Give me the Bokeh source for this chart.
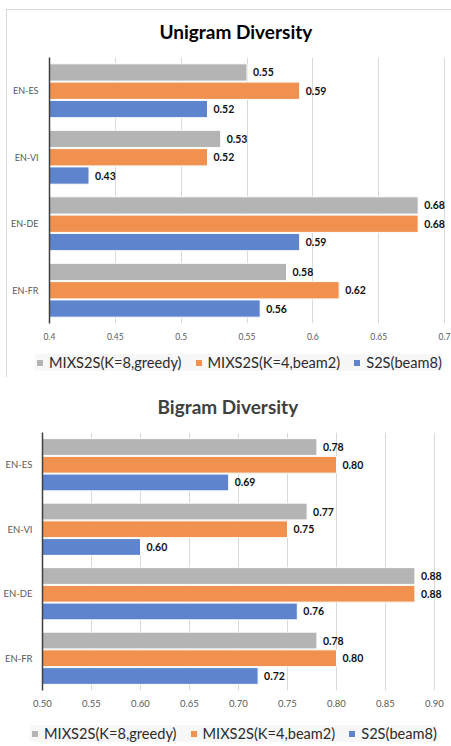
from bokeh.plotting import figure
from bokeh.models import FactorRange, FixedTicker, Legend, LegendItem, ColumnDataSource
from bokeh.transform import dodge
from bokeh.layouts import column, row
from bokeh.core.properties import value
from bokeh.embed import file_html
from bokeh.resources import INLINE

# ---------------- data ----------------
categories = ["EN-ES", "EN-VI", "EN-DE", "EN-FR"]          # top to bottom
series_names = ["MIXS2S(K=8,greedy)", "MIXS2S(K=4,beam2)", "S2S(beam8)"]

uni_mix8 = [0.55, 0.53, 0.68, 0.58]
uni_mix4 = [0.59, 0.52, 0.68, 0.62]
uni_s2s = [0.52, 0.43, 0.59, 0.56]

bi_mix8 = [0.78, 0.77, 0.88, 0.78]
bi_mix4 = [0.80, 0.75, 0.88, 0.80]
bi_s2s = [0.69, 0.60, 0.76, 0.72]

uni_ticks = [0.4, 0.45, 0.5, 0.55, 0.6, 0.65, 0.7]
uni_tick_labels = ["0.4", "0.45", "0.5", "0.55", "0.6", "0.65", "0.7"]
bi_ticks = [0.5, 0.55, 0.6, 0.65, 0.7, 0.75, 0.8, 0.85, 0.9]
bi_tick_labels = ["0.50", "0.55", "0.60", "0.65", "0.70", "0.75", "0.80", "0.85", "0.90"]

# ---------------- style ----------------
COLORS = ["#b4b4b4", "#f0914f", "#5d84cc"]
FONT = "Lato"
W = 451


def build(title_text, title_color, title_offset, vals, ticks, tick_labels, height,
          b_top, b_bottom, b_left, span_px, ylab_standoff, ylab_font, tick_font, styles=None):
    frame_w = W - b_left
    x_end = ticks[0] + frame_w * (ticks[-1] - ticks[0]) / span_px
    kw = {}
    if styles:
        kw["styles"] = styles
    p = figure(width=W, height=height,
               y_range=FactorRange(factors=categories[::-1]),
               x_range=(ticks[0], x_end),
               output_backend="svg", toolbar_location=None,
               min_border_top=b_top, min_border_bottom=b_bottom,
               min_border_left=b_left, min_border_right=0,
               background_fill_color=None, border_fill_color=None, **kw)
    p.outline_line_color = None

    p.title.text = title_text
    p.title.text_font = FONT
    p.title.text_font_style = "bold"
    p.title.text_font_size = "19px"
    p.title.text_color = title_color
    p.title.align = "left"
    p.title.offset = title_offset
    p.title.standoff = 30

    ticker = FixedTicker(ticks=ticks)
    p.xaxis.ticker = ticker
    p.xgrid.ticker = ticker
    p.xaxis.major_label_overrides = dict(zip(ticks, tick_labels))
    p.xaxis.axis_line_color = None
    p.xaxis.major_tick_line_color = None
    p.xaxis.minor_tick_line_color = None
    p.xaxis.major_tick_out = 0
    p.xaxis.major_label_standoff = 9
    p.xaxis.major_label_text_font = FONT
    p.xaxis.major_label_text_font_size = tick_font
    p.xaxis.major_label_text_color = "#595959"

    p.yaxis.axis_line_color = "#404040"
    p.yaxis.axis_line_width = 1.5
    p.yaxis.major_tick_line_color = None
    p.yaxis.minor_tick_line_color = None
    p.yaxis.major_tick_out = 0
    p.yaxis.axis_label_standoff = 0
    p.yaxis.major_label_standoff = ylab_standoff
    p.yaxis.major_label_text_font = FONT
    p.yaxis.major_label_text_font_size = ylab_font
    p.yaxis.major_label_text_color = "#595959"

    p.xgrid.grid_line_color = "#d9d9d9"
    p.xgrid.grid_line_width = 1
    p.ygrid.grid_line_color = None

    data = dict(cat=categories)
    for i, v in enumerate(vals):
        data[f"s{i}"] = v
        data[f"t{i}"] = [f"{x:.2f}" for x in v]
    src = ColumnDataSource(data)

    offsets = [0.275, 0.0, -0.275]
    for i in range(3):
        p.hbar(y=dodge("cat", offsets[i], range=p.y_range), left=ticks[0], right=f"s{i}",
               height=0.26, fill_color=COLORS[i], line_color="white", line_width=1,
               source=src)
        p.text(x=f"s{i}", y=dodge("cat", offsets[i], range=p.y_range), text=f"t{i}",
               x_offset=6, text_baseline="middle", text_align="left",
               text_font=value(FONT), text_font_style="bold", text_font_size="10.5px",
               text_color="#111111", source=src)
    return p


def legend_fig(height, loc, styles=None):
    kw = {}
    if styles:
        kw["styles"] = styles
    lp = figure(width=W, height=height, x_range=(0, 1), y_range=(0, 1),
                x_axis_type=None, y_axis_type=None,
                output_backend="svg", toolbar_location=None,
                min_border_left=0, min_border_right=0, min_border_top=0, min_border_bottom=0,
                background_fill_color=None, border_fill_color=None,
                outline_line_color=None, **kw)
    # legend proxies: one row each, placed outside the visible y range
    rs = [lp.hbar(y=[-1], left=[0], right=[1], height=0.1, fill_color=c,
                  line_color="white", line_width=1) for c in COLORS]
    legend = Legend(items=[LegendItem(label=n, renderers=[r]) for n, r in zip(series_names, rs)],
                    location=loc, orientation="horizontal",
                    glyph_width=9, glyph_height=9, label_standoff=5, spacing=12,
                    padding=5, margin=0, label_height=15,
                    label_text_font=FONT, label_text_font_size="14.6px",
                    label_text_color="#2b2b2b",
                    background_fill_color="#f7f7f7", background_fill_alpha=1,
                    border_line_color=None)
    lp.add_layout(legend)
    return lp


p1 = build("Unigram Diversity", "#000000", 110, [uni_mix8, uni_mix4, uni_s2s],
           uni_ticks, uni_tick_labels, 343, 57, 20, 49, 395, 11, "9px", "8.5px",
           styles={"box-shadow": "inset 6px 9px 0 0 #ffffff, inset 7px 10px 0 0 #d9d9d9"})
l1 = legend_fig(34, (35, 6),
                styles={"box-shadow": "inset 6px 0 0 0 #ffffff, inset 7px 0 0 0 #d9d9d9"})
p2 = build("Bigram Diversity", "#404040", 115, [bi_mix8, bi_mix4, bi_s2s],
           bi_ticks, bi_tick_labels, 332, 50, 18, 42, 392, 10, "9.5px", "9.5px")
l2 = legend_fig(33, (30, 0))

layout = column(row(p1), row(l1), row(p2), row(l2), spacing=0)
open("out.html", "w").write(file_html(layout, INLINE))
